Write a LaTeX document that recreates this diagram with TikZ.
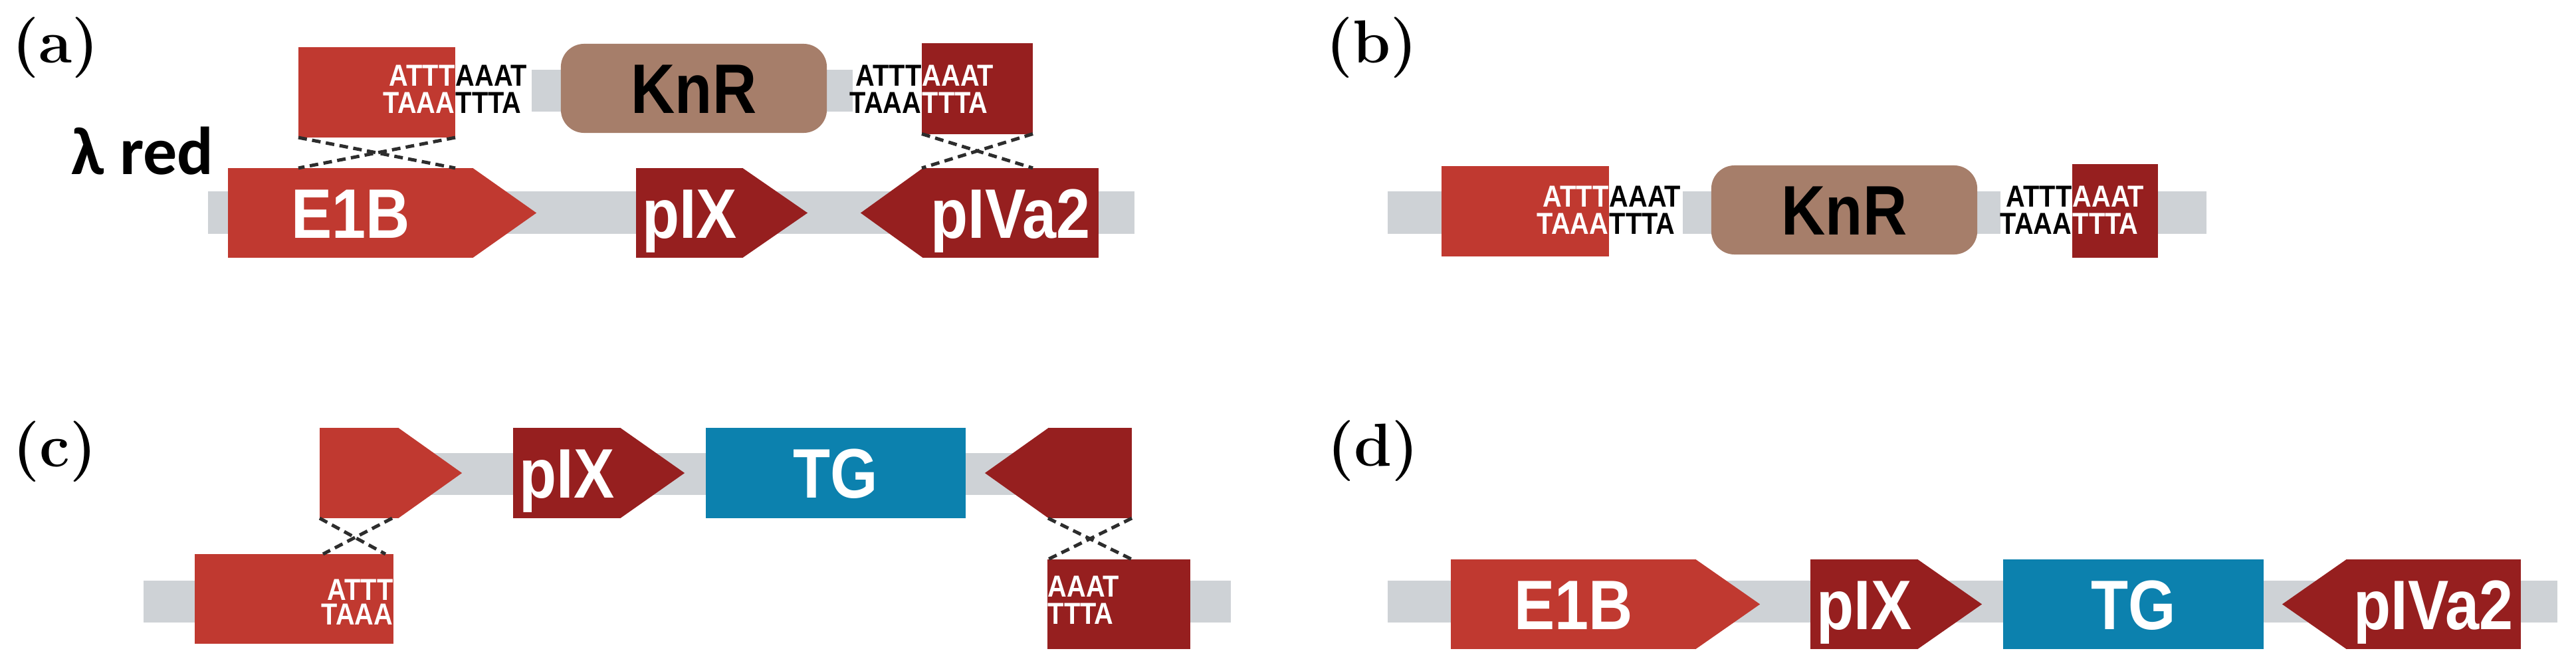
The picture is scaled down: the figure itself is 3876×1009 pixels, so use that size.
\documentclass[tikz,border=0pt]{standalone}
\usepackage{fontspec}
\usetikzlibrary{calc}
\newfontfamily\genefont[FakeStretch=0.87]{Liberation Sans}
\newfontfamily\redfont{Carlito}
\definecolor{e1bred}{RGB}{192,57,48}
\definecolor{pivred}{RGB}{150,31,31}
\definecolor{knrbrown}{RGB}{166,126,106}
\definecolor{tgblue}{RGB}{12,129,174}
\definecolor{bargray}{RGB}{206,210,214}
\definecolor{dashgray}{RGB}{45,45,45}
\tikzset{
  dnabar/.style={fill=bargray},
  gene/.style={rectangle,inner sep=0pt,outer sep=0pt,minimum height=1.35cm,
    text height=21.5pt,text depth=0pt,text=white,
    font=\genefont\bfseries\fontsize{30}{30}\selectfont},
  homarm/.style={rectangle,inner sep=0pt,outer sep=0pt,minimum height=1.36cm},
  knr/.style={gene,rounded corners=0.35cm,fill=knrbrown,text=black,
    minimum width=4cm,minimum height=1.34cm},
  seqtxt/.style={inner sep=0pt,font=\genefont\bfseries\fontsize{13}{13}\selectfont},
  swapline/.style={draw=dashgray,line width=0.05cm,dash pattern=on 0.13cm off 0.08cm},
  panel/.style={anchor=north west,inner sep=0pt,font=\bfseries\fontsize{26}{26}\selectfont},
}
% arrow tips of the gene boxes
\newcommand{\tipR}[3]{\fill[#2] ([xshift=-0.2pt]#1.north east) -- ([xshift=#3]#1.east) -- ([xshift=-0.2pt]#1.south east) -- cycle;}
\newcommand{\tipL}[3]{\fill[#2] ([xshift=0.2pt]#1.north west) -- ([xshift=-#3]#1.west) -- ([xshift=0.2pt]#1.south west) -- cycle;}
% ATTTAAAT / TAAATTTA at a junction
\newcommand{\seqjoin}[5]{%
  \node[seqtxt,text=#4,anchor=base east] (#1a) at (#2,#3) {ATTT};
  \node[seqtxt,text=#5,anchor=base west] (#1b) at (#2,#3) {AAAT};
  \node[seqtxt,text=#4,anchor=base east] (#1c) at (#2,#3+41) {TAAA};
  \node[seqtxt,text=#5,anchor=base west] (#1d) at (#2,#3+41) {TTTA};}
\begin{document}
\begin{tikzpicture}[x=0.01cm,y=-0.01cm]
	\useasboundingbox (0,0) rectangle (3876,1009);
	% (a)
	\fill[dnabar] (313,288) rectangle (1707,352);
	\node[gene,fill=e1bred,minimum width=3.69cm] (e1bA) at (527.5,320.5) {E1B};
	\tipR{e1bA}{e1bred}{0.95cm}
	\node[gene,fill=pivred,minimum width=1.61cm] (pixA) at (1037.5,320.5) {pIX};
	\tipR{pixA}{pivred}{0.97cm}
	\node[gene,fill=pivred,minimum width=2.65cm] (ivaA) at (1520.5,320.5) {pIVa2};
	\tipL{ivaA}{pivred}{0.93cm}
	\fill[dnabar] (800,105) rectangle (1283,168);
	\node[homarm,fill=e1bred,minimum width=2.36cm] (armA) at (567,139) {};
	\node[knr] (knrA) at (1044,133) {KnR};
	\node[homarm,fill=pivred,minimum width=1.67cm] (armB) at (1470.5,133.5) {};
	\seqjoin{sqA}{685}{129}{white}{black}
	\seqjoin{sqB}{1387}{129}{black}{white}
	\draw[swapline] (armA.south west) -- (armA.south east |- e1bA.north);
	\draw[swapline] (armA.south east) -- (armA.south west |- e1bA.north);
	\draw[swapline] (armB.south west) -- (armB.south east |- ivaA.north);
	\draw[swapline] (armB.south east) -- (armB.south west |- ivaA.north);
	\node[panel] (labA) at (18,25) {(a)};
	\node[anchor=base west,inner sep=0pt,font=\redfont\bfseries\fontsize{29}{29}\selectfont] (lred) at (107,262) {λ red};
	% (b)
	\fill[dnabar] (2088,288) rectangle (2300,352);
	\fill[dnabar] (2532,288) rectangle (3010,352);
	\fill[dnabar] (3200,288) rectangle (3320,352);
	\node[homarm,fill=e1bred,minimum width=2.52cm] (armC) at (2295,318) {};
	\node[knr] (knrB) at (2775,316) {KnR};
	\node[homarm,fill=pivred,minimum width=1.29cm,minimum height=1.41cm] (armD) at (3182.5,317.5) {};
	\seqjoin{sqC}{2421}{311}{white}{black}
	\seqjoin{sqD}{3118}{311}{black}{white}
	\node[panel] (labB) at (1995,25) {(b)};
	% (c)
	\fill[dnabar] (560,682) rectangle (1640,745);
	\node[gene,fill=e1bred,minimum width=1.19cm,minimum height=1.36cm] (e1bC) at (540.5,712) {};
	\tipR{e1bC}{e1bred}{0.95cm}
	\node[gene,fill=pivred,minimum width=1.62cm,minimum height=1.36cm] (pixC) at (853,712) {pIX};
	\tipR{pixC}{pivred}{0.96cm}
	\node[gene,fill=tgblue,minimum width=3.91cm,minimum height=1.36cm] (tgC) at (1257.5,712) {TG};
	\node[gene,fill=pivred,minimum width=1.26cm,minimum height=1.36cm] (ivaC) at (1640,712) {};
	\tipL{ivaC}{pivred}{0.95cm}
	\fill[dnabar] (216,874) rectangle (400,937);
	\node[homarm,fill=e1bred,minimum width=2.99cm,minimum height=1.35cm] (armE) at (442.5,901.5) {};
	\node[seqtxt,text=white,anchor=base east] (sqEa) at (592,903) {ATTT};
	\node[seqtxt,text=white,anchor=base east] (sqEc) at (592,940) {TAAA};
	\fill[dnabar] (1700,874) rectangle (1852,937);
	\node[homarm,fill=pivred,minimum width=2.15cm,minimum height=1.35cm] (armF) at (1683.5,909.5) {};
	\node[seqtxt,text=white,anchor=base west] (sqFb) at (1576,898) {AAAT};
	\node[seqtxt,text=white,anchor=base west] (sqFd) at (1576,939) {TTTA};
	\coordinate (xcL) at (486,834);
	\coordinate (xcR) at (580,834);
	\draw[swapline] (e1bC.south west) -- (xcR);
	\draw[swapline] ([xshift=-0.1cm]e1bC.south east) -- (xcL);
	\draw[swapline] (ivaC.south west) -- (ivaC.south east |- armF.north);
	\draw[swapline] (ivaC.south east) -- (ivaC.south west |- armF.north);
	\node[panel] (labC) at (19,633) {(c)};
	% (d)
	\fill[dnabar] (2088,874) rectangle (3848,937);
	\node[gene,fill=e1bred,minimum width=3.69cm] (e1bD) at (2367.5,909.5) {E1B};
	\tipR{e1bD}{e1bred}{0.96cm}
	\node[gene,fill=pivred,minimum width=1.62cm] (pixD) at (2805,909.5) {pIX};
	\tipR{pixD}{pivred}{0.96cm}
	\node[gene,fill=tgblue,minimum width=3.92cm] (tgD) at (3210,909.5) {TG};
	\node[gene,fill=pivred,minimum width=2.63cm] (ivaD) at (3661.5,909.5) {pIVa2};
	\tipL{ivaD}{pivred}{0.96cm}
	\node[panel] (labD) at (1997,632) {(d)};
\end{tikzpicture}
\end{document}
